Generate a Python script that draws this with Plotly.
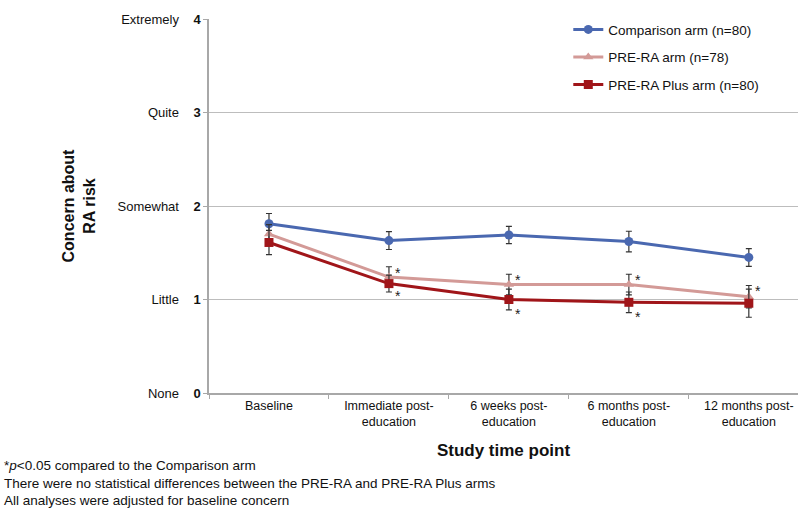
import plotly.graph_objects as go

categories = ["Baseline", "Immediate post-<br>education", "6 weeks post-<br>education",
              "6 months post-<br>education", "12 months post-<br>education"]

comparison = [1.81, 1.63, 1.69, 1.62, 1.45]
comparison_err = [0.11, 0.095, 0.093, 0.11, 0.095]
prera = [1.70, 1.24, 1.16, 1.16, 1.03]
prera_err = [0.10, 0.11, 0.11, 0.11, 0.12]
preraplus = [1.61, 1.17, 1.00, 0.97, 0.96]
preraplus_err = [0.13, 0.09, 0.11, 0.11, 0.15]

prera_sig = [False, True, True, True, True]
preraplus_sig = [False, True, True, True, False]

ytick_vals = [0, 1, 2, 3, 4]
ytick_words = ["None", "Little", "Somewhat", "Quite", "Extremely"]

series = [
    ("Comparison arm (n=80)", comparison, comparison_err, "#4A68B0", "circle", 9),
    ("PRE-RA arm (n=78)", prera, prera_err, "#D39A97", "triangle-up", 9),
    ("PRE-RA Plus arm (n=80)", preraplus, preraplus_err, "#A01519", "square", 9),
]

fig = go.Figure()
for k, (name, vals, err, col, sym, sz) in enumerate(series):
    fig.add_trace(go.Scatter(
        x=categories, y=vals, name=name, mode="lines+markers", legendgroup=f"g{k}",
        line=dict(color=col, width=3),
        marker=dict(symbol=sym, size=sz, color=col),
        error_y=dict(type="data", array=err, visible=True, color="#333333",
                     thickness=1.2, width=3),
    ))

# significance stars
for i, c in enumerate(categories):
    if prera_sig[i]:
        fig.add_annotation(x=c, y=prera[i] + prera_err[i], text="*", showarrow=False,
                           xshift=9, yshift=-6, font=dict(size=14, color="#222222"))
    if preraplus_sig[i]:
        fig.add_annotation(x=c, y=preraplus[i] - preraplus_err[i], text="*", showarrow=False,
                           xshift=9, yshift=-4, font=dict(size=14, color="#222222"))

ytext = [f"{w}    <b>{v}</b>" for w, v in zip(ytick_words, ytick_vals)]

fig.update_layout(
    width=798, height=508,
    margin=dict(l=209, r=0, t=19, b=115),
    plot_bgcolor="white", paper_bgcolor="white",
    font=dict(family="Liberation Sans, Arial, sans-serif", size=12, color="#111111"),
    showlegend=True,
    legend=dict(x=0.61, y=1.013, xanchor="left", yanchor="top",
                bgcolor="rgba(0,0,0,0)", font=dict(size=13.5),
                tracegroupgap=7),
    xaxis=dict(
        type="category", range=[-0.5, 4.41], showgrid=False, automargin=False,
        showline=True, linecolor="#A8A8A8", linewidth=1.5,
        ticks="outside", tickson="boundaries", ticklen=4, tickcolor="#A8A8A8",
        tickfont=dict(size=12.5),
        title=dict(text="<b>Study time point</b>", font=dict(size=17), standoff=16),
    ),
    yaxis=dict(
        range=[0, 4], tickvals=ytick_vals, ticktext=ytext, automargin=False,
        showgrid=True, gridcolor="#BDBDBD", gridwidth=1.2,
        showline=True, linecolor="#A8A8A8", linewidth=1.5,
        ticks="outside", ticklen=4, tickcolor="#A8A8A8",
        tickfont=dict(size=13), zeroline=False,
        title=dict(text="<b>Concern about<br>RA risk</b>", font=dict(size=16), standoff=18),
    ),
)

fig.add_annotation(
    xref="paper", yref="paper", x=-207/589, y=-0.168, xanchor="left", yanchor="top",
    align="left", showarrow=False, font=dict(size=13.5, color="#111111"),
    text="*<i>p</i><0.05 compared to the Comparison arm<br>"
         "There were no statistical differences between the PRE-RA and PRE-RA Plus arms<br>"
         "All analyses were adjusted for baseline concern",
)

fig.write_html("out.html", config={"displayModeBar": False},
               post_script="document.body.style.margin='0px';document.body.style.overflow='hidden';")
